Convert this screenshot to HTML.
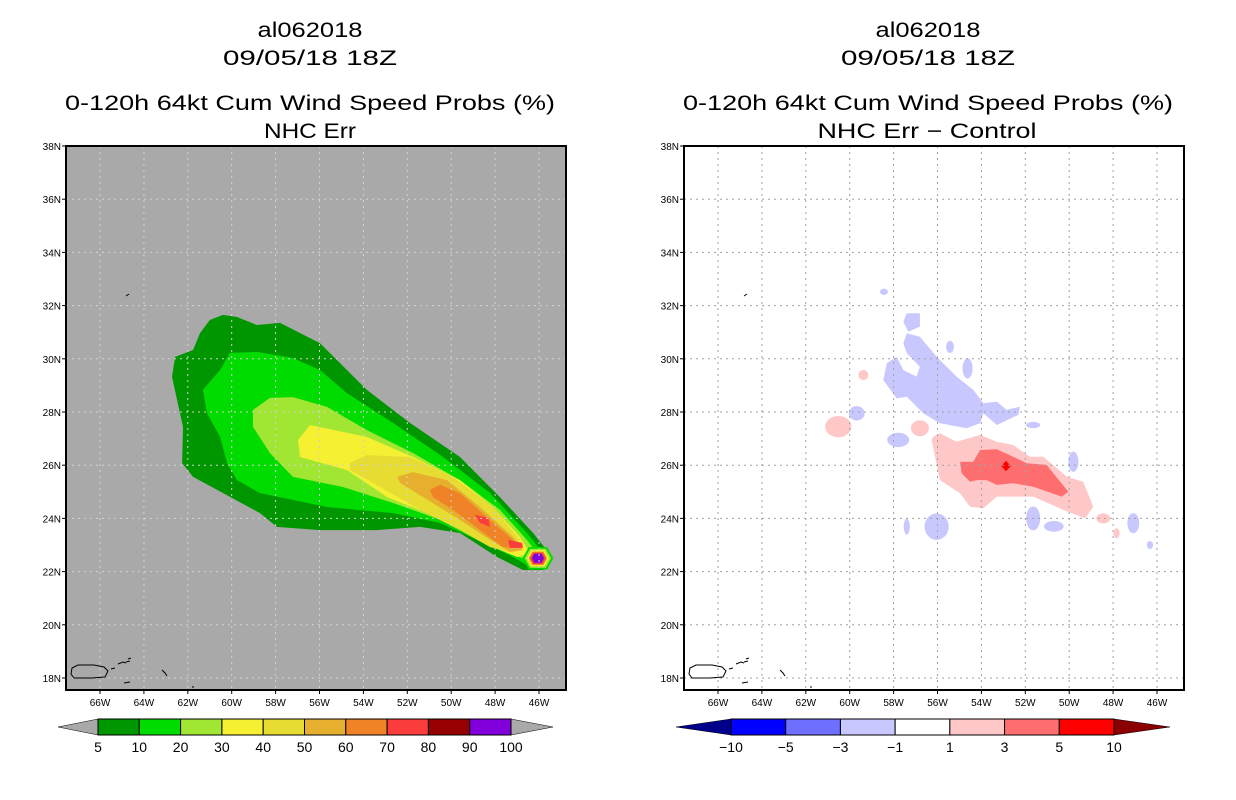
<!DOCTYPE html>
<html><head><meta charset="utf-8"><style>
html,body{margin:0;padding:0;background:#fff;}
svg{display:block;font-family:"Liberation Sans",sans-serif;}
.t{font-size:21px;text-anchor:middle;fill:#000;}
.tk{font-size:10px;fill:#000;}
.cb{font-size:14px;text-anchor:middle;fill:#000;}
</style></head><body>
<svg id="root" width="1236" height="800" viewBox="0 0 1236 800" xmlns="http://www.w3.org/2000/svg">
<g>
<text class="t" x="310" y="37" textLength="105" lengthAdjust="spacingAndGlyphs">al062018</text>
<text class="t" x="310" y="65" textLength="174" lengthAdjust="spacingAndGlyphs">09/05/18 18Z</text>
<text class="t" x="310" y="110" textLength="490" lengthAdjust="spacingAndGlyphs">0-120h 64kt Cum Wind Speed Probs (%)</text>
<text class="t" x="310" y="138" textLength="92" lengthAdjust="spacingAndGlyphs">NHC Err</text>
</g>
<g>
<text class="t" x="928" y="37" textLength="105" lengthAdjust="spacingAndGlyphs">al062018</text>
<text class="t" x="928" y="65" textLength="174" lengthAdjust="spacingAndGlyphs">09/05/18 18Z</text>
<text class="t" x="928" y="110" textLength="490" lengthAdjust="spacingAndGlyphs">0-120h 64kt Cum Wind Speed Probs (%)</text>
<text class="t" x="927" y="138" textLength="219" lengthAdjust="spacingAndGlyphs">NHC Err − Control</text>
</g>
<g id="left"></g>
<g id="right"></g>
<g id="cbl"></g>
<g id="cbr"></g>
</svg>
<script>
const NS="http://www.w3.org/2000/svg";
const lonTicks=[66,64,62,60,58,56,54,52,50,48,46];
const latTicks=[18,20,22,24,26,28,30,32,34,36,38];
const probLevels=["5","10","20","30","40","50","60","70","80","90","100"];
const probColors=["#009600","#00dc00","#a0e632","#f5f032","#e6dc32","#e6af2d","#f08228","#fa3c3c","#960000","#8200dc"];
const diffLevels=["-10","-5","-3","-1","1","3","5","10"];
const diffColors=["#0000ff","#6e6eff","#c8c8ff","#ffffff","#ffc8c8","#ff6e6e","#ff0000"];
// probability contours [lon W, lat N]
const p5=[[61.0,31.46],[60.4,31.65],[59.76,31.57],[58.85,31.27],[57.8,31.35],[55.98,30.59],[53.84,28.83],[51.88,27.59],[49.6,26.31],[47.78,24.8],[46.27,23.45],[45.36,22.51],[45.82,22.06],[46.73,22.06],[47.91,22.55],[49.6,23.45],[51.42,23.68],[53.38,23.56],[55.98,23.56],[57.94,23.68],[58.71,24.2],[61.76,25.56],[62.26,26.08],[62.22,27.44],[62.72,29.32],[62.58,30.07],[61.76,30.33],[61.44,30.97]];
const p10=[[60.08,30.22],[58.85,30.26],[57.21,30.03],[55.98,29.58],[54.75,28.71],[52.65,27.59],[50.37,26.31],[48.23,24.95],[46.55,23.45],[45.82,22.7],[46.41,22.17],[47.18,22.55],[48.82,23.19],[50.51,23.83],[52.65,24.2],[55.66,24.43],[58.71,24.95],[59.76,25.44],[60.21,26.08],[60.53,27.06],[61.13,27.96],[61.31,28.83],[60.53,29.58]];
const p20=[[59.03,28.08],[58.26,28.53],[57.21,28.56],[55.66,28.19],[53.84,27.32],[51.74,26.46],[49.6,25.44],[47.78,24.32],[46.55,23.19],[46.09,22.7],[46.55,22.44],[47.46,22.7],[48.82,23.45],[50.83,24.05],[52.65,24.58],[54.93,25.18],[57.21,25.56],[58.26,26.46],[59.03,27.44]];
const p30=[[56.43,27.51],[53.84,27.06],[51.74,26.31],[49.6,25.44],[48.1,24.43],[46.87,23.3],[46.41,22.7],[47.0,22.55],[48.1,22.92],[49.6,23.68],[51.1,24.2],[52.92,24.8],[54.75,25.82],[56.89,26.31],[56.98,26.95]];
const p40=[[54.61,26.08],[53.84,26.38],[51.88,26.31],[49.92,25.56],[48.1,24.43],[46.87,23.19],[47.18,22.7],[48.23,22.92],[49.6,23.56],[51.42,24.32],[53.56,25.33],[54.61,25.82]];
const p50=[[52.47,25.56],[51.74,25.74],[50.19,25.44],[48.69,24.43],[47.18,23.3],[46.73,22.81],[47.32,22.74],[48.23,23.19],[49.6,23.94],[51.28,24.8],[52.33,25.33]];
const p60=[[50.97,25.07],[50.51,25.26],[49.6,24.95],[48.37,24.05],[47.18,23.19],[47.0,22.89],[47.64,22.92],[48.69,23.56],[49.92,24.32],[50.83,24.8]];
const p70a=[[48.92,24.13],[48.32,24.02],[48.23,23.68],[48.69,23.83]];
const p70b=[[47.41,23.19],[46.77,23.08],[46.73,22.89],[47.32,22.89]];
const tipCenter=[46.05,22.5];
// difference contours
const dNeg=[[57.4,30.96],[56.8,30.83],[56.04,30.08],[55.13,29.33],[54.37,28.83],[53.91,28.33],[53.3,28.39],[52.85,28.08],[52.24,28.2],[52.32,27.89],[53.3,27.51],[53.91,27.95],[54.06,27.58],[54.67,27.39],[55.89,27.58],[56.65,27.95],[57.4,28.57],[57.86,28.51],[58.47,29.2],[58.31,29.83],[57.86,30.08],[57.56,29.58],[56.95,29.33],[56.8,29.7],[57.4,30.21],[57.56,30.58]];
const dNeg2=[[57.4,31.71],[56.8,31.71],[56.8,31.21],[57.33,31.02],[57.56,31.39]];
const dPos1=[[56.19,27.07],[55.89,27.2],[55.13,26.88],[54.06,27.14],[53.3,26.88],[52.55,26.76],[51.79,26.32],[51.18,26.32],[50.11,25.57],[49.36,25.38],[48.9,24.44],[49.28,24.0],[50.27,24.32],[51.64,24.82],[53.3,24.82],[53.91,24.38],[54.52,24.44],[54.97,24.94],[55.89,25.44],[56.27,26.95]];
const dPos3=[[54.97,26.13],[54.37,26.13],[54.06,26.57],[53.3,26.6],[52.55,26.32],[51.94,26.07],[51.03,26.01],[50.04,25.0],[50.34,24.82],[51.64,25.19],[52.55,25.32],[53.3,25.26],[53.76,25.44],[54.22,25.44],[54.52,25.38],[54.9,25.7]];
const dPos5=[52.88,25.97];
// small blobs: lon, lat, rLon, rLat, sign
const blobLon=[56.04,57.79,59.68,49.81,51.64,50.7,47.08,54.63,55.43,58.44,57.4,51.64,46.32,59.38,56.8,60.52,48.45,47.84];
const blobLat=[23.69,26.95,27.95,26.13,24.0,23.7,23.82,29.64,30.45,32.52,23.69,27.51,23.0,29.39,27.39,27.45,24.0,23.44];
const blobRx=[0.55,0.5,0.36,0.23,0.32,0.45,0.27,0.23,0.18,0.18,0.14,0.32,0.14,0.23,0.41,0.6,0.32,0.14];
const blobRy=[0.5,0.27,0.27,0.38,0.45,0.2,0.38,0.38,0.23,0.12,0.3,0.12,0.15,0.19,0.3,0.4,0.19,0.19];
const blobSign=[-1,-1,-1,-1,-1,-1,-1,-1,-1,-1,-1,-1,-1,1,1,1,1,1];

const W=500,H=544;
function px(lon){return 34+(66-lon)*21.95;}
function py(lat){return (38-lat)*26.6;}
function mk(tag,attrs,parent){const e=document.createElementNS(NS,tag);for(const k in attrs)e.setAttribute(k,attrs[k]);parent.appendChild(e);return e;}
function pts(arr){return arr.map(p=>px(p[0]).toFixed(1)+","+py(p[1]).toFixed(1)).join(" ");}

function buildPanel(g,ox,bg,gridCol,isProb){
  g.setAttribute("transform","translate("+ox+",146)");
  const clip=mk("clipPath",{id:"clip"+ox},g);
  mk("rect",{x:0,y:0,width:W,height:H},clip);
  const bgR=mk("rect",{x:0,y:0,width:W,height:H,fill:bg},g);
  
  
  const c=mk("g",{"clip-path":"url(#clip"+ox+")"},g);
  if(isProb){
    const lay=[p5,p10,p20,p30,p40,p50,p60];
    lay.forEach((poly,i)=>{
      const e=mk("polygon",{points:pts(poly),fill:probColors[i]},c);
      
      
    });
    [p70a,p70b].forEach(poly=>{
      const e=mk("polygon",{points:pts(poly),fill:probColors[7]},c);
      
      
    });
    const radii=[0.7,0.6,0.5,0.42,0.35,0.28];
    const cols=[probColors[1],probColors[2],probColors[3],probColors[6],probColors[7],probColors[9]];
    radii.forEach((r,i)=>{
      const cx=tipCenter[0],cy=tipCenter[1],ry=r*0.6;
      const hex=[[cx+r,cy],[cx+r*0.6,cy+ry],[cx-r*0.6,cy+ry],[cx-r,cy],[cx-r*0.6,cy-ry],[cx+r*0.6,cy-ry]];
      const e=mk("polygon",{points:pts(hex),fill:cols[i]},c);
      
      
    });
  } else {
    blobLon.forEach((lo,i)=>{
      const e=mk("ellipse",{cx:px(lo),cy:py(blobLat[i]),rx:blobRx[i]*21.95,ry:blobRy[i]*26.6,fill:blobSign[i]<0?diffColors[2]:diffColors[4]},c);
      
      
    });
    [[dNeg,2],[dNeg2,2],[dPos1,4],[dPos3,5]].forEach(([poly,ci])=>{
      const e=mk("polygon",{points:pts(poly),fill:diffColors[ci]},c);
      
      
    });
    const d=mk("polygon",{points:pts([[dPos5[0]+0.22,dPos5[1]],[dPos5[0],dPos5[1]+0.2],[dPos5[0]-0.22,dPos5[1]],[dPos5[0],dPos5[1]-0.2]]),fill:diffColors[6]},c);
    
    
  }
  lonTicks.forEach(lo=>{
    const e=mk("line",{x1:px(lo),x2:px(lo),y1:0,y2:H,stroke:gridCol,"stroke-width":1,"stroke-dasharray":"2,4"},c);
    
    
  });
  latTicks.forEach(la=>{
    const e=mk("line",{x1:0,x2:W,y1:py(la),y2:py(la),stroke:gridCol,"stroke-width":1,"stroke-dasharray":"2,4"},c);
    
    
  });
  const pr=mk("path",{d:"M6,522 L12,519 L28,519 L38,521 L42,525 L39,531 L26,532 L8,532 L5,528 Z M45,523 l4,-1 M52,518 l5,-2 l3,1 M60,516 l4,-1 M96,524 l3,3 l2,3 M58,537 l6,-1 M126,541 l2,0 M62,513 l3,-1 M60,150 l3,-2",fill:"none",stroke:"#000","stroke-width":1},c);
  
  
  const fr=mk("rect",{x:0,y:0,width:W,height:H,fill:"none",stroke:"#000","stroke-width":2},g);
  
  
  lonTicks.forEach(lo=>{
    mk("line",{x1:px(lo),x2:px(lo),y1:H,y2:H+4,stroke:"#000"},g);
    const t=mk("text",{x:px(lo),y:H+16,class:"tk","text-anchor":"middle"},g);
    t.textContent=lo+"W";
    
    
  });
  latTicks.forEach(la=>{
    mk("line",{x1:-4,x2:0,y1:py(la),y2:py(la),stroke:"#000"},g);
    const t=mk("text",{x:-5,y:py(la)+4,class:"tk","text-anchor":"end"},g);
    t.textContent=la+"N";
    
    
  });
}
buildPanel(document.getElementById("left"),66,"#a9a9a9","#d2d2d2",true);
buildPanel(document.getElementById("right"),684,"#ffffff","#a0a0a0",false);

function colorbar(g,x0,x1,tipL,tipR,cols,labels,endL,endR,labelOffset){
  const y0=719,y1=735,n=cols.length,w=(x1-x0)/n;
  const a=mk("polygon",{points:tipL+","+(y0+y1)/2+" "+x0+","+y0+" "+x0+","+y1,fill:endL,stroke:"#000","stroke-width":0.5},g);
  
  
  const b=mk("polygon",{points:tipR+","+(y0+y1)/2+" "+x1+","+y0+" "+x1+","+y1,fill:endR,stroke:"#000","stroke-width":0.5},g);
  
  
  cols.forEach((c,i)=>{
    const r=mk("rect",{x:x0+i*w,y:y0,width:w,height:y1-y0,fill:c,stroke:"#000","stroke-width":1},g);
    
    
  });
  labels.forEach((l,i)=>{
    const t=mk("text",{x:x0+(i+labelOffset)*w,y:752,class:"cb"},g);
    t.textContent=l.replace("-","−");
    
    
  });
}
colorbar(document.getElementById("cbl"),98,511,58,553,probColors,probLevels,"#a9a9a9","#a9a9a9",0);
colorbar(document.getElementById("cbr"),731,1114,676,1170,diffColors,diffLevels,"#00008b","#8b0000",0);
</script>
</body></html>
